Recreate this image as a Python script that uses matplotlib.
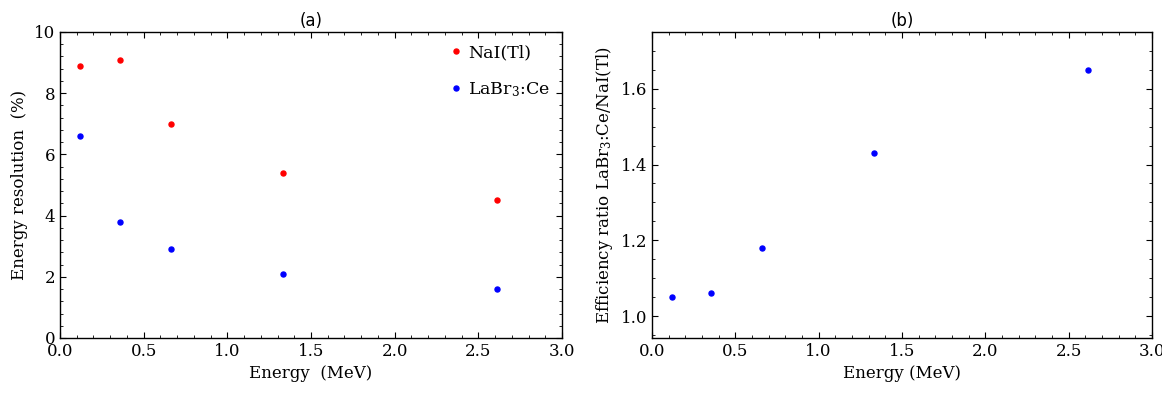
import matplotlib
matplotlib.use("Agg")
import matplotlib.pyplot as plt
from matplotlib.ticker import MultipleLocator

energy = [0.122, 0.356, 0.662, 1.332, 2.614]
nai_res = [8.9, 9.1, 7.0, 5.4, 4.5]
labr_res = [6.6, 3.8, 2.9, 2.1, 1.6]
eff_ratio = [1.05, 1.06, 1.18, 1.43, 1.65]

plt.rcParams['font.family'] = ['DejaVu Serif']
plt.rcParams['mathtext.fontset'] = 'dejavuserif'

fig = plt.figure(figsize=(11.62, 3.94), dpi=100)
ax1 = fig.add_axes([60/1162, 1 - 338/394, 502/1162, 306/394])
ax2 = fig.add_axes([652/1162, 1 - 338/394, 500/1162, 306/394])

ax1.plot(energy, nai_res, 'o', color='red', ms=3.6, label='NaI(Tl)')
ax1.plot(energy, labr_res, 'o', color='blue', ms=3.6, label='LaBr$_3$:Ce')
ax1.set_xlim(0, 3)
ax1.set_ylim(0, 10)
ax1.xaxis.set_major_locator(MultipleLocator(0.5))
ax1.xaxis.set_minor_locator(MultipleLocator(0.1))
ax1.yaxis.set_major_locator(MultipleLocator(2))
ax1.yaxis.set_minor_locator(MultipleLocator(0.4))
ax1.set_xlabel('Energy  (MeV)', fontsize=12)
ax1.set_ylabel('Energy resolution  (%)', fontsize=12)
ax1.set_title('(a)', fontsize=12, family='DejaVu Sans', pad=4)
ax1.xaxis.set_major_formatter(plt.FuncFormatter(lambda v, p: f'{v:.1f}'))
leg = ax1.legend(loc='upper right', frameon=False, fontsize=12.5, handletextpad=0.2,
                 labelspacing=1.1, handlelength=1.0, borderaxespad=0.3)

ax2.plot(energy, eff_ratio, 'o', color='blue', ms=3.6)
ax2.set_xlim(0, 3)
ax2.set_ylim(0.942, 1.75)
ax2.xaxis.set_major_locator(MultipleLocator(0.5))
ax2.xaxis.set_minor_locator(MultipleLocator(0.1))
ax2.yaxis.set_major_locator(MultipleLocator(0.2))
ax2.yaxis.set_minor_locator(MultipleLocator(0.05))
ax2.set_xlabel('Energy (MeV)', fontsize=12)
ax2.set_ylabel('Efficiency ratio LaBr$_3$:Ce/NaI(Tl)', fontsize=12)
ax2.set_title('(b)', fontsize=12, family='DejaVu Sans', pad=4)
ax2.xaxis.set_major_formatter(plt.FuncFormatter(lambda v, p: f'{v:.1f}'))

for ax in (ax1, ax2):
    ax.tick_params(which='both', direction='in', top=True, right=True, labelsize=12)
    ax.tick_params(which='major', length=4, width=0.8)
    ax.tick_params(which='minor', length=2, width=0.6)
    for s in ax.spines.values():
        s.set_linewidth(1.0)

fig.savefig('out.png', dpi=100)
